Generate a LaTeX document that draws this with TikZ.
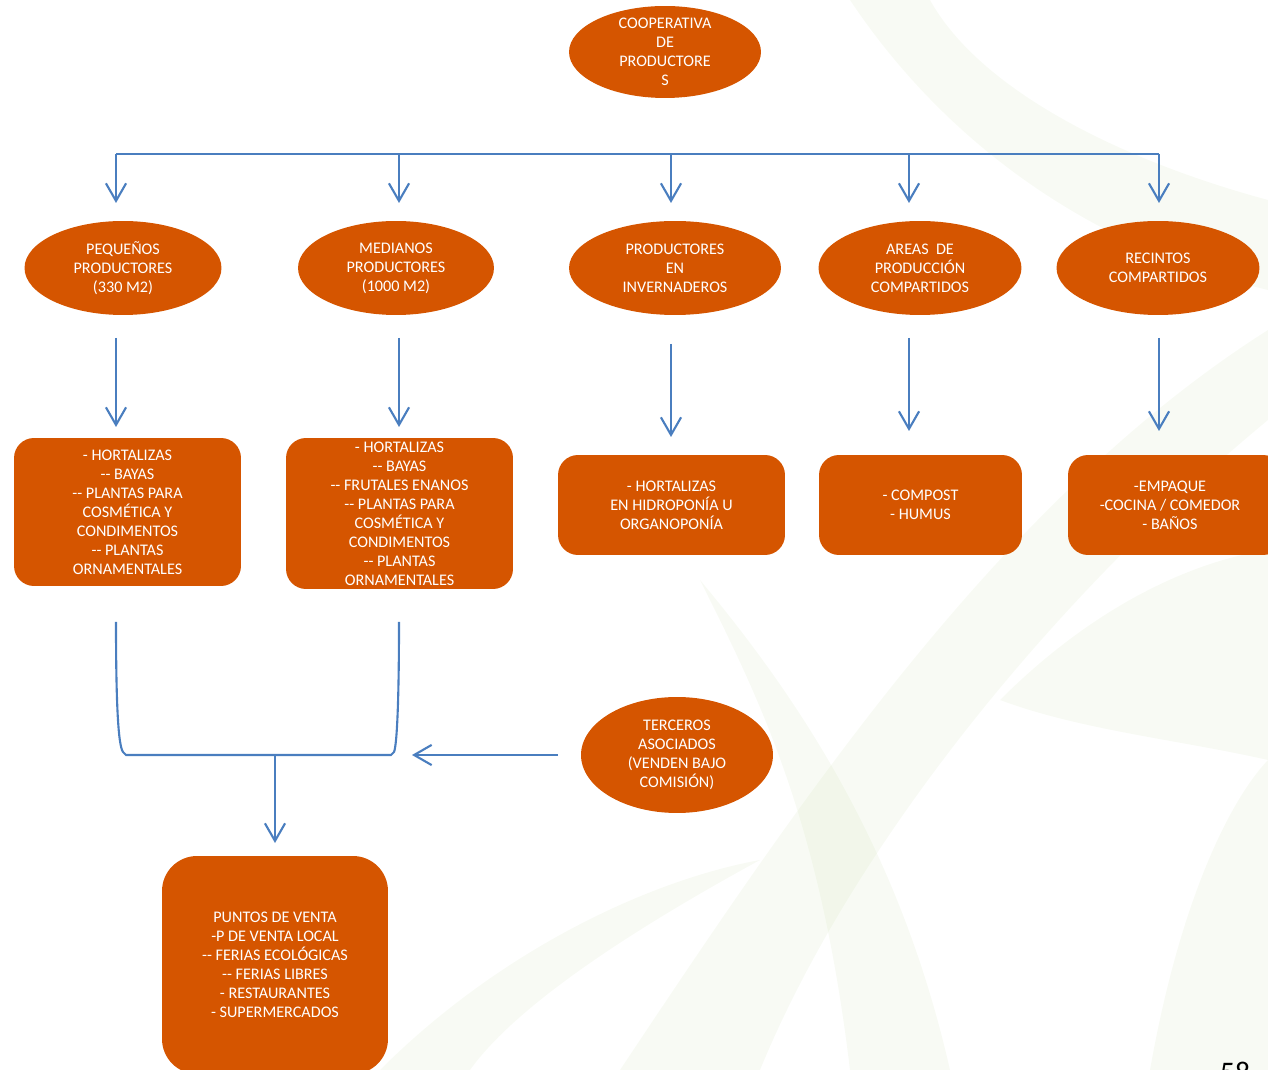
\documentclass[tikz,border=0pt]{standalone}
\usepackage{fontspec}
\setmainfont{Carlito}
\usetikzlibrary{shapes.geometric,arrows.meta}
\definecolor{orng}{HTML}{D55500}
\definecolor{lnblue}{HTML}{4A7EBF}
\definecolor{leaf}{RGB}{200,220,170}
\tikzset{
  txt/.style={font=\fontsize{9.2}{10.8}\selectfont, text=white, align=center},
  ell/.style={ellipse, fill=orng, inner sep=0pt},
  rbox/.style={rectangle, rounded corners=0.4cm, fill=orng, inner sep=0pt, txt},
  ln/.style={draw=lnblue, line width=1.2pt},
  arr/.style={ln, -{Straight Barb[length=10pt,width=11.5pt,line width=1.2pt]}}
}
\newcommand\dd{-{}-}
\begin{document}
\begin{tikzpicture}[x=0.02cm,y=-0.02cm]
\useasboundingbox (0,0) rectangle (1268,1070);
\clip (0,0) rectangle (1268,1070);
% faint leaf watermark
\begin{scope}[opacity=0.13]
\fill[leaf] (620,1070) .. controls (800,800) and (1000,500) .. (1268,330) -- (1268,420) .. controls (1050,600) and (850,850) .. (760,1070) -- cycle;
\fill[leaf] (850,0) .. controls (950,150) and (1100,250) .. (1268,290) -- (1268,200) .. controls (1120,160) and (980,90) .. (930,0) -- cycle;
\fill[leaf] (1000,700) .. controls (1100,600) and (1200,560) .. (1268,550) -- (1268,760) .. controls (1180,740) and (1080,730) .. cycle;
\fill[leaf] (700,580) .. controls (760,700) and (820,820) .. (850,1070) -- (950,1070) .. controls (900,850) and (800,700) .. cycle;
\fill[leaf] (1150,1070) .. controls (1180,900) and (1230,800) .. (1268,760) -- (1268,1070) -- cycle;
\fill[leaf] (380,1070) .. controls (500,950) and (650,880) .. (760,860) .. controls (650,920) and (520,1000) .. (470,1070) -- cycle;
\end{scope}

% top
\node[ell, minimum width=3.84cm, minimum height=1.84cm] (coop) at (665,52) {};
\node[txt] at (coop.center) {COOPERATIVA\\DE\\PRODUCTORE\\S};

% second row ellipses
\node[ell, minimum width=3.94cm, minimum height=1.88cm] (peq) at (123,268) {};
\node[txt] at (peq.center) {PEQUEÑOS\\PRODUCTORES\\(330 M2)};
\node[ell, minimum width=3.92cm, minimum height=1.88cm] (med) at (396,268) {};
\node[txt] at (med.center) {MEDIANOS\\PRODUCTORES\\(1000 M2)};
\node[ell, minimum width=4.24cm, minimum height=1.88cm] (inv) at (675,268) {};
\node[txt] at (inv.center) {PRODUCTORES\\EN\\INVERNADEROS};
\node[ell, minimum width=4.06cm, minimum height=1.88cm] (are) at (920,268) {};
\node[txt] at (are.center) {AREAS~ DE\\PRODUCCIÓN\\COMPARTIDOS};
\node[ell, minimum width=4.06cm, minimum height=1.88cm] (rec) at (1158,268) {};
\node[txt] at (rec.center) {RECINTOS\\COMPARTIDOS};

% boxes
\node[rbox, minimum width=4.54cm, minimum height=2.96cm] (b1) at (127.5,512) {- HORTALIZAS\\\dd{} BAYAS\\\dd{} PLANTAS PARA\\COSMÉTICA Y\\CONDIMENTOS\\\dd{} PLANTAS\\ORNAMENTALES};
\node[rbox, minimum width=4.54cm, minimum height=3.02cm] (b2) at (399.5,513.5) {- HORTALIZAS\\\dd{} BAYAS\\\dd{} FRUTALES ENANOS\\\dd{} PLANTAS PARA\\COSMÉTICA Y\\CONDIMENTOS\\\dd{} PLANTAS\\ORNAMENTALES};
\node[rbox, minimum width=4.54cm, minimum height=2.0cm] (b3) at (671.5,505) {- HORTALIZAS\\EN HIDROPONÍA U\\ORGANOPONÍA};
\node[rbox, minimum width=4.06cm, minimum height=2.0cm] (b4) at (920.5,505) {- COMPOST\\- HUMUS};
\node[rbox, minimum width=4.3cm, minimum height=2.0cm] (b5) at (1175.5,505) {};
\node[txt] at (1170,505) {-EMPAQUE\\-COCINA / COMEDOR\\- BAÑOS};

% terceros
\node[ell, minimum width=3.84cm, minimum height=2.32cm] (ter) at (677,755) {};
\node[txt] at (ter.center) {TERCEROS\\ASOCIADOS\\(VENDEN BAJO\\COMISIÓN)};

% puntos de venta
\node[rbox, rounded corners=0.7cm, minimum width=4.52cm, minimum height=4.36cm] (pv) at (275,965) {PUNTOS DE VENTA\\-P DE VENTA LOCAL\\\dd{} FERIAS ECOLÓGICAS\\\dd{} FERIAS LIBRES\\- RESTAURANTES\\- SUPERMERCADOS};

% page number
\node[anchor=north, inner sep=0pt, font=\fontsize{17}{20}\selectfont] (pg) at (1235,1062) {58};

% connectors: top distribution
\coordinate (hL) at (116,154);
\coordinate (hR) at (1159,154);
\draw[ln] (hL) -- (hR);
\foreach \x/\n in {116/a,399/b,671/c,909/d,1159/e}{
  \coordinate (t\n) at (\x,154);
  \coordinate (u\n) at (\x,203);
  \draw[arr] (t\n) -- (u\n);
}
% ellipse to box arrows
\coordinate (s1) at (116,338); \coordinate (e1) at (116,427);
\coordinate (s2) at (399,338); \coordinate (e2) at (399,427);
\coordinate (s3) at (671,344); \coordinate (e3) at (671,437);
\coordinate (s4) at (909,338); \coordinate (e4) at (909,431);
\coordinate (s5) at (1159,338); \coordinate (e5) at (1159,431);
\foreach \i in {1,...,5}{\draw[arr] (s\i) -- (e\i);}

% bracket
\coordinate (bl) at (116,622);
\coordinate (br) at (399,622);
\coordinate (bm) at (275,755);
\coordinate (bd) at (275,843);
\draw[ln] (bl) .. controls (116,700) and (118,745) .. (123,752) -- (126,755) -- (391,755) -- (394,752) .. controls (397,745) and (399,700) .. (br);
\draw[arr] (bm) -- (bd);
\coordinate (tf) at (558,755);
\coordinate (tt) at (412,755);
\draw[arr] (tf) -- (tt);
\end{tikzpicture}
\end{document}
